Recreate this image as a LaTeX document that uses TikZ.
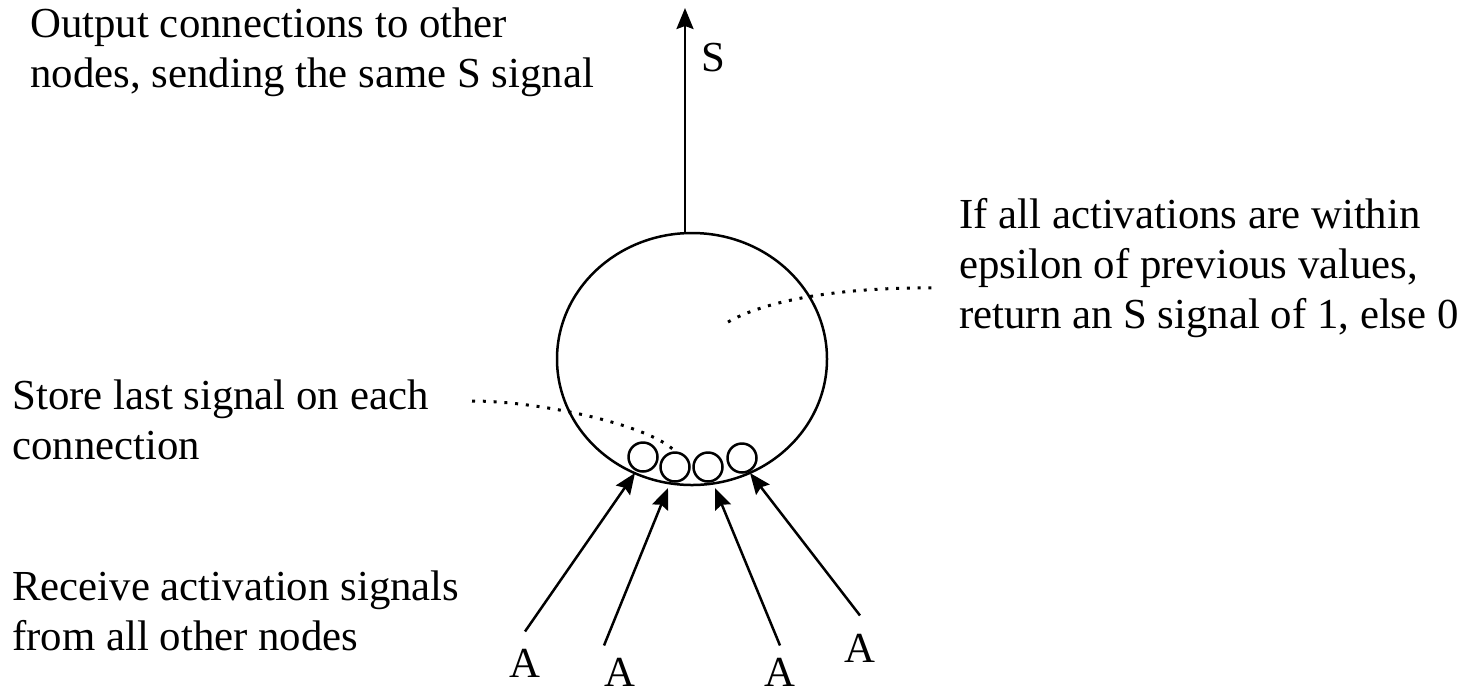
\documentclass[tikz,border=0pt]{standalone}
\usepackage{fontspec}
\setmainfont{Liberation Serif}
\usetikzlibrary{positioning,arrows.meta,shapes.geometric}

\begin{document}
\begin{tikzpicture}[x=0.5pt,y=-0.5pt,
    body/.style={ellipse,draw,line width=1.25pt,minimum width=135pt,minimum height=126pt,
                 inner sep=0pt},
    store/.style={circle,draw,line width=1.25pt,minimum size=14.5pt,inner sep=0pt},
    note/.style={font=\fontsize{21.4}{25}\selectfont,align=left,inner sep=0pt,
                 anchor=base west},
    sig/.style={font=\fontsize{21.4}{25}\selectfont,inner sep=0pt},
    link/.style={-{Stealth[length=10.5pt,width=8.5pt,inset=1.5pt]},line width=1.25pt},
    lead/.style={line width=1.5pt,dash pattern=on 1.5pt off 3.9pt}
]
\useasboundingbox (0,0) rectangle (1462,693);

\node[body] (body) at (692,359) {};
\node[store] (c1) at (643,457) {};
\node[store] (c2) at (675,467) {};
\node[store] (c3) at (708,467) {};
\node[store] (c4) at (742,458) {};

\coordinate (top) at (685,8);
\draw[link] (body.north -| top) -- (top);
\node[sig] (s) at (713,58) {S};

\node[note] (outtxt) at (30,87) {Output connections to other\\nodes, sending the same S signal};
\node[note] (stotxt) at (12,459) {Store last signal on each\\connection};
\node[note] (rectxt) at (12,650) {Receive activation signals\\from all other nodes};
\node[note] (epstxt) at (959,328) {If all activations are within\\epsilon of previous values,\\return an S signal of 1, else 0};

\coordinate (stofree) at (472,401);
\draw[lead] (stofree) .. controls (540,401) and (650,425) .. (c2.north);
\coordinate (epsin) at (728,322);
\coordinate (epsfree) at (935,288);
\draw[lead] (epsin) .. controls (770,298) and (850,287) .. (epsfree);

\node[sig] (a1) at (525,663) {A};
\node[sig] (a2) at (620,672) {A};
\node[sig] (a3) at (780,672) {A};
\node[sig] (a4) at (860,648) {A};
\coordinate (t1) at (635,473);
\coordinate (t2) at (668,488);
\coordinate (t3) at (715,488);
\coordinate (t4) at (750,473);
\draw[link] ([yshift=8.5pt]a1.north) -- (t1);
\draw[link] ([xshift=-8pt,yshift=6pt]a2.north) -- (t2);
\draw[link] ([yshift=6pt]a3.north) -- (t3);
\draw[link] ([yshift=9pt]a4.north) -- (t4);
\end{tikzpicture}
\end{document}
